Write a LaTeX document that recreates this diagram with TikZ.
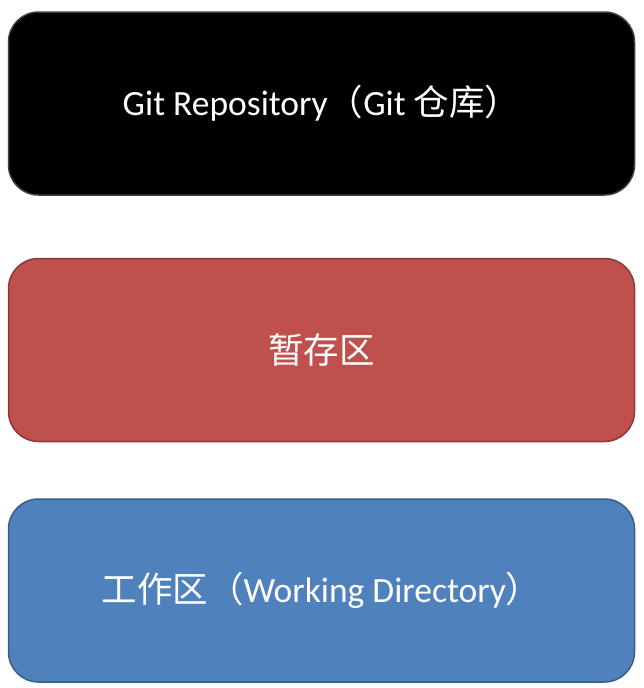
\documentclass[tikz,border=0pt]{standalone}
\usepackage{fontspec}
\setmainfont{Carlito}
\newfontfamily\cjk{Noto Sans CJK SC}
\usetikzlibrary{positioning}

\definecolor{stagered}{HTML}{C0504D}
\definecolor{stageedge}{HTML}{8C3836}
\definecolor{workblue}{HTML}{4F81BD}
\definecolor{workedge}{HTML}{385D8A}

\tikzset{
  area/.style={rectangle, rounded corners=30pt, minimum width=626pt,
    minimum height=183pt, line width=1.5pt, text=white,
    font=\fontsize{35.5}{40}\selectfont},
  repo/.style={area, fill=black, draw=black!75},
  stage/.style={area, fill=stagered, draw=stageedge},
  work/.style={area, fill=workblue, draw=workedge},
}

\begin{document}
\begin{tikzpicture}[x=1pt, y=1pt]
\useasboundingbox (0,0) rectangle (643,-688);

\node[repo] at (321.5,-103.5) (git) {Git Repository{\cjk（}Git {\cjk 仓库）}};
\node[stage, below=62pt of git] (index) {\cjk 暂存区};
\node[work, below=56pt of index] (wd) {{\cjk 工作区（}Working Directory{\cjk ）}};
\end{tikzpicture}
\end{document}
